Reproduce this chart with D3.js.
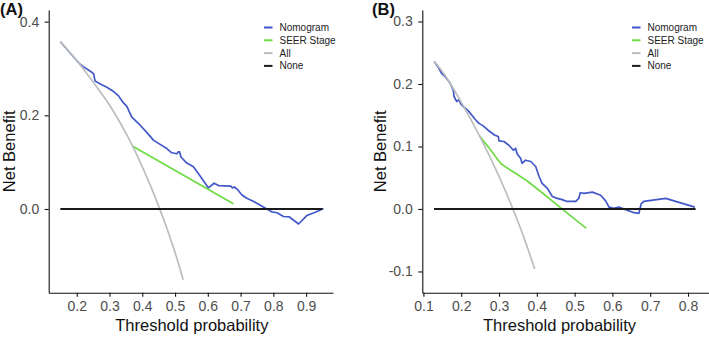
<!DOCTYPE html>
<html>
<head>
<meta charset="utf-8">
<script src="https://cdn.jsdelivr.net/npm/d3@7"></script>
<style>
	body { margin: 0; background: #fff; }
	svg { display: block; font-family: "Liberation Sans", Arial, sans-serif; }
</style>
</head>
<body>
<svg id="chart" width="709" height="337"></svg>
<script>
// ---- data ----
const series_names = ["Nomogram", "SEER Stage", "All", "None"];

// panel A  [threshold, net benefit]
const a_nomogram = [[0.15,0.357],[0.18,0.333],[0.20,0.317],[0.210,0.309],[0.220,0.304],[0.246,0.292],[0.252,0.288],[0.256,0.273],
	[0.275,0.266],[0.292,0.260],[0.310,0.252],[0.327,0.242],[0.342,0.227],[0.353,0.219],[0.368,0.196],[0.388,0.183],
	[0.413,0.164],[0.434,0.147],[0.452,0.139],[0.475,0.129],[0.490,0.120],[0.506,0.118],[0.510,0.122],[0.514,0.122],
	[0.518,0.111],[0.536,0.098],[0.556,0.090],[0.576,0.071],[0.602,0.045],[0.619,0.055],[0.633,0.050],[0.670,0.049],
	[0.675,0.045],[0.681,0.047],[0.690,0.042],[0.704,0.030],[0.719,0.023],[0.740,0.016],[0.760,0.008],[0.780,0.000],
	[0.795,-0.006],[0.811,-0.008],[0.831,-0.016],[0.849,-0.017],[0.877,-0.032],[0.902,-0.014],[0.928,-0.007],[0.953,0.001]];
const a_seer = [[0.371,0.134],[0.678,0.011]];
const a_all = [[0.15,0.357],[0.20,0.317],[0.25,0.271],[0.30,0.222],[0.35,0.162],[0.375,0.128],[0.40,0.090],
	[0.425,0.050],[0.45,0.006],[0.475,-0.041],[0.50,-0.093],[0.525,-0.151]];
const a_none = [[0.15,0],[0.95,0]];
const a_xticks = [0.2,0.3,0.4,0.5,0.6,0.7,0.8,0.9];
const a_xlabels = ["0.2","0.3","0.4","0.5","0.6","0.7","0.8","0.9"];
const a_yticks = [0,0.2,0.4];
const a_ylabels = ["0.0","0.2","0.4"];

// panel B
const b_nomogram = [[0.1285,0.236],[0.140,0.226],[0.148,0.217],[0.157,0.212],[0.170,0.202],[0.179,0.190],[0.181,0.180],
	[0.188,0.172],[0.194,0.175],[0.198,0.169],[0.205,0.164],[0.219,0.157],[0.236,0.144],[0.247,0.137],[0.258,0.133],
	[0.271,0.126],[0.280,0.122],[0.289,0.118],[0.298,0.116],[0.300,0.109],[0.313,0.108],[0.326,0.102],[0.338,0.094],
	[0.344,0.097],[0.348,0.088],[0.357,0.081],[0.361,0.073],[0.370,0.078],[0.384,0.076],[0.397,0.068],[0.406,0.052],
	[0.414,0.041],[0.428,0.033],[0.441,0.020],[0.454,0.017],[0.467,0.015],[0.480,0.012],[0.503,0.012],[0.511,0.017],
	[0.515,0.026],[0.525,0.025],[0.547,0.027],[0.569,0.022],[0.582,0.013],[0.591,0.003],[0.604,0.001],[0.617,0.003],
	[0.635,-0.001],[0.657,-0.006],[0.670,-0.007],[0.676,0.008],[0.683,0.012],[0.741,0.017],[0.818,0.003]];
const b_seer = [[0.248,0.117],[0.272,0.099],[0.294,0.081],[0.306,0.072],[0.331,0.062],[0.372,0.046],[0.410,0.028],
	[0.465,0.001],[0.531,-0.031]];
const b_all = [[0.1285,0.236],[0.15,0.220],[0.20,0.171],[0.25,0.115],[0.30,0.052],[0.3367,0.0],[0.36,-0.036],[0.3944,-0.096]];
const b_none = [[0.128,0],[0.82,0]];
const b_xticks = [0.1,0.2,0.3,0.4,0.5,0.6,0.7,0.8];
const b_xlabels = ["0.1","0.2","0.3","0.4","0.5","0.6","0.7","0.8"];
const b_yticks = [-0.1,0,0.1,0.2,0.3];
const b_ylabels = ["-0.1","0.0","0.1","0.2","0.3"];

// ---- look ----
const params = {
		colors: ["#4258c8", "#6fdc45", "#bdbdbd", "#1a1a1a"],
		widths: [1.7, 1.7, 1.7, 2],
		tick_size: 4,
		tick_font: "14px",
		title_font: "16.5px",
		legend_font: "10px"
	},
	svg = d3.select("#chart");

// pixel layout of each panel
const panels = [
	{ tag: "(A)", tag_x: 0, x_dom: [0.1145, 0.982], x_rng: [48.7, 333], y_dom: [-0.1787, 0.4248], y_rng: [292.7, 10],
		ytitle_x: 14.5, legend_x: 264,
		data: [a_nomogram, a_seer, a_all, a_none], xt: a_xticks, xl: a_xlabels, yt: a_yticks, yl: a_ylabels },
	{ tag: "(B)", tag_x: 372, x_dom: [0.097, 0.855], x_rng: [422.3, 708.8], y_dom: [-0.134, 0.3184], y_rng: [292.7, 10],
		ytitle_x: 385.5, legend_x: 632,
		data: [b_nomogram, b_seer, b_all, b_none], xt: b_xticks, xl: b_xlabels, yt: b_yticks, yl: b_ylabels }
];

function draw_panel(p) {
	const g = svg.append("g");
	const x = d3.scaleLinear().domain(p.x_dom).range(p.x_rng),
		y = d3.scaleLinear().domain(p.y_dom).range(p.y_rng);

	// axes
	const xa = g.append("g")
		.attr("transform", `translate(0,${p.y_rng[0]})`)
		.call(d3.axisBottom(x).tickValues(p.xt).tickFormat((d, i) => p.xl[i])
			.tickSize(params.tick_size).tickSizeOuter(0).tickPadding(4.5));
	const ya = g.append("g")
		.attr("transform", `translate(${p.x_rng[0]},0)`)
		.call(d3.axisLeft(y).tickValues(p.yt).tickFormat((d, i) => p.yl[i])
			.tickSize(params.tick_size).tickSizeOuter(0).tickPadding(5.5));
	[xa, ya].forEach(a => {
		a.attr("font-family", null).attr("font-size", null);
		a.select(".domain").attr("stroke", "#111").attr("stroke-width", 1.1);
		a.selectAll(".tick line").attr("stroke", "#111").attr("stroke-width", 1.1);
		a.selectAll(".tick text").attr("fill", "#4d4d4d").style("font-size", params.tick_font);
	});

	// lines, in legend order
	const line = d3.line().x(d => x(d[0])).y(d => y(d[1]));
	p.data.forEach((s, i) => {
		g.append("path")
			.datum(s)
			.attr("fill", "none")
			.attr("stroke", params.colors[i])
			.attr("stroke-width", params.widths[i])
			.attr("stroke-linejoin", "round")
			.attr("d", i == 2 ? line.curve(d3.curveMonotoneX)(s) : line.curve(d3.curveLinear)(s));
	});

	// titles
	g.append("text")
		.attr("x", (p.x_rng[0] + Math.min(p.x_rng[1], 709)) / 2 + (p.tag == "(B)" ? -6 : 1))
		.attr("y", 331)
		.attr("text-anchor", "middle")
		.style("font-size", params.title_font)
		.attr("fill", "#111")
		.text("Threshold probability");
	g.append("text")
		.attr("transform", `translate(${p.ytitle_x},${(p.y_rng[0] + p.y_rng[1]) / 2}) rotate(-90)`)
		.attr("text-anchor", "middle")
		.style("font-size", params.title_font)
		.attr("fill", "#111")
		.text("Net Benefit");
	g.append("text")
		.attr("x", p.tag_x).attr("y", 14.5)
		.style("font-size", "16.5px").style("font-weight", "bold")
		.attr("fill", "#111")
		.text(p.tag);

	// legend
	const leg = g.append("g").attr("transform", `translate(${p.legend_x},0)`);
	series_names.forEach((name, i) => {
		const yy = 27.5 + i * 12.8;
		leg.append("line")
			.attr("x1", 0).attr("x2", 8.5).attr("y1", yy).attr("y2", yy)
			.attr("stroke", params.colors[i]).attr("stroke-width", 2);
		leg.append("text")
			.attr("x", 15.5).attr("y", yy).attr("dy", "0.35em")
			.style("font-size", params.legend_font)
			.attr("fill", "#222")
			.text(name);
	});
}

panels.forEach(draw_panel);
</script>
</body>
</html>
